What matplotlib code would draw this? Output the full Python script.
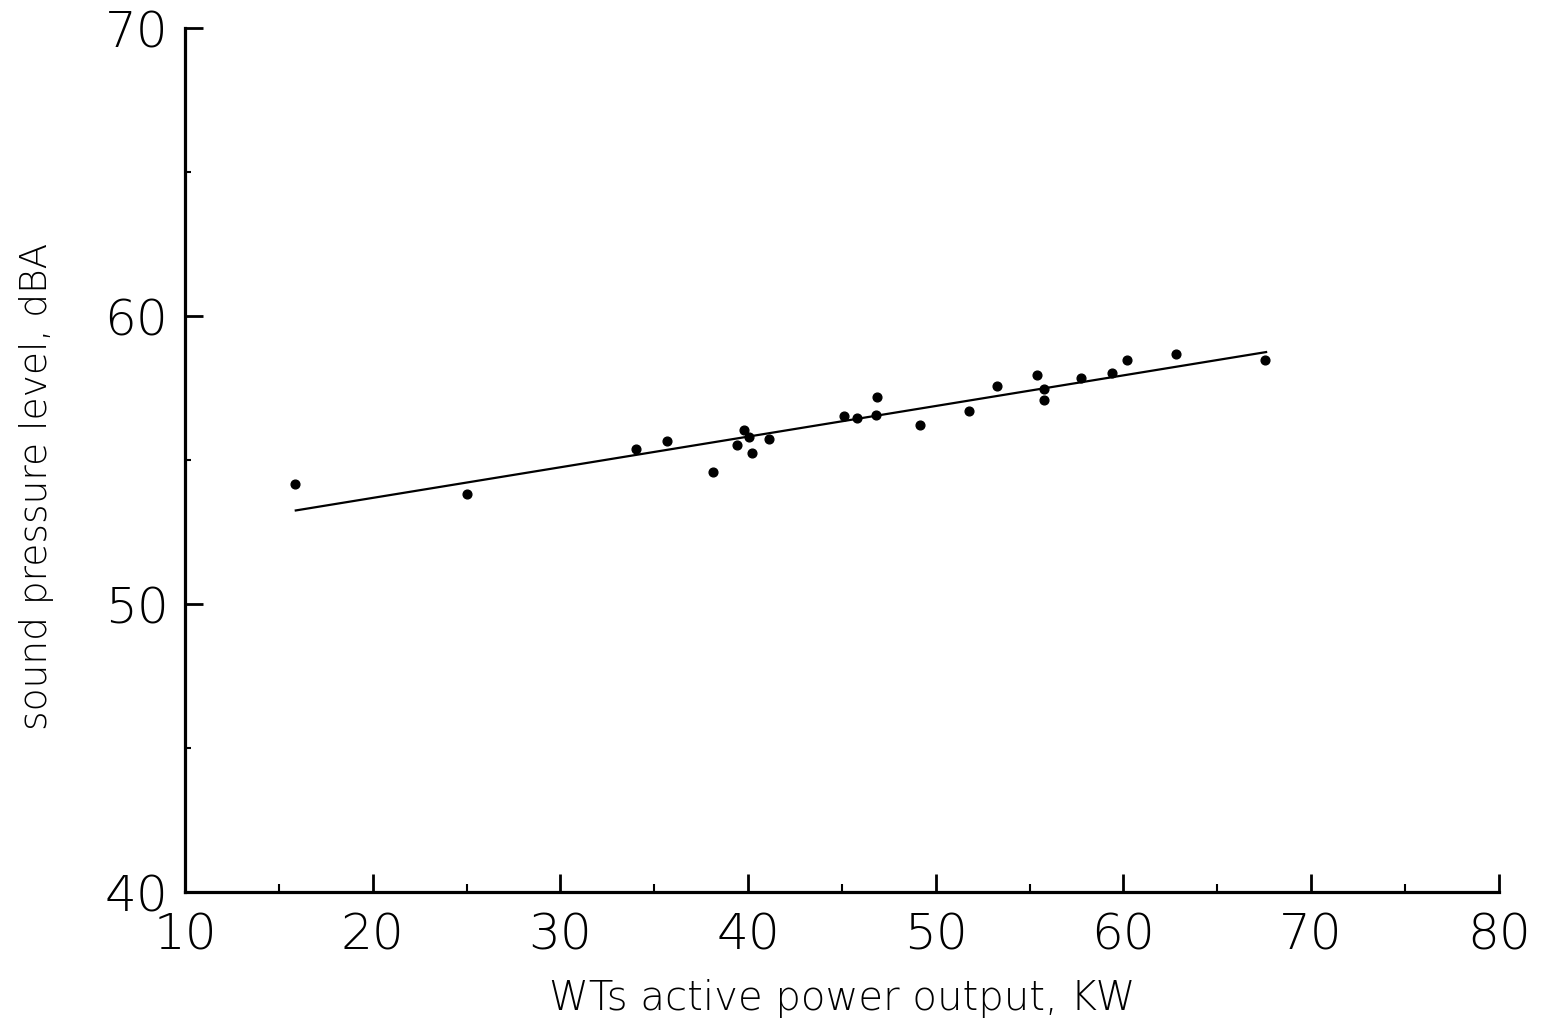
import matplotlib
matplotlib.use("Agg")
import matplotlib.pyplot as plt
from matplotlib.ticker import MultipleLocator

# measured points (power in KW, SPL in dBA)
power = [15.86, 25.02, 34.01, 35.67, 38.12, 39.39, 39.77, 40.03, 40.19, 41.10,
         45.09, 45.78, 46.79, 46.85, 49.14, 51.75, 53.24, 55.37, 55.79, 55.79,
         57.76, 59.41, 60.21, 62.82, 67.56]
spl = [54.17, 53.82, 55.38, 55.66, 54.58, 55.52, 56.04, 55.80, 55.24, 55.73,
       56.53, 56.46, 56.56, 57.19, 56.22, 56.70, 57.57, 57.95, 57.47, 57.08,
       57.85, 58.02, 58.47, 58.68, 58.47]

# regression line as drawn
fit_x = [15.9, 67.6]
fit_y = [53.25, 58.75]

plt.rcParams['font.family'] = ['DejaVu Sans']

fig = plt.figure(figsize=(15.42, 10.26), dpi=100)
ax = fig.add_axes([0.12, 0.1306, 0.852, 0.842])

ax.plot(power, spl, 'o', color='black', markersize=6.3)
ax.plot(fit_x, fit_y, color='black', linewidth=1.6)

ax.set_xlim(10, 80)
ax.set_ylim(40, 70)
ax.xaxis.set_major_locator(MultipleLocator(10))
ax.xaxis.set_minor_locator(MultipleLocator(5))
ax.yaxis.set_major_locator(MultipleLocator(10))
ax.yaxis.set_minor_locator(MultipleLocator(5))

for s in ['top', 'right']:
    ax.spines[s].set_visible(False)
for s in ['left', 'bottom']:
    ax.spines[s].set_linewidth(2.3)

ax.tick_params(which='major', direction='in', length=13, width=2, labelsize=36, pad=14)
ax.tick_params(which='minor', direction='in', length=6, width=1.5)
ax.tick_params(axis='y', which='minor', length=4)
ax.tick_params(axis='y', pad=12)

for lab in ax.get_xticklabels() + ax.get_yticklabels():
    lab.set_fontweight('light')

ax.set_xlabel('WTs active power output, KW', fontsize=29, fontweight='light', labelpad=14)
ax.set_ylabel('sound pressure level, dBA', fontsize=27, fontweight='light')
ax.yaxis.set_label_coords(-0.1, 0.469)

fig.savefig('out.png', dpi=100)
